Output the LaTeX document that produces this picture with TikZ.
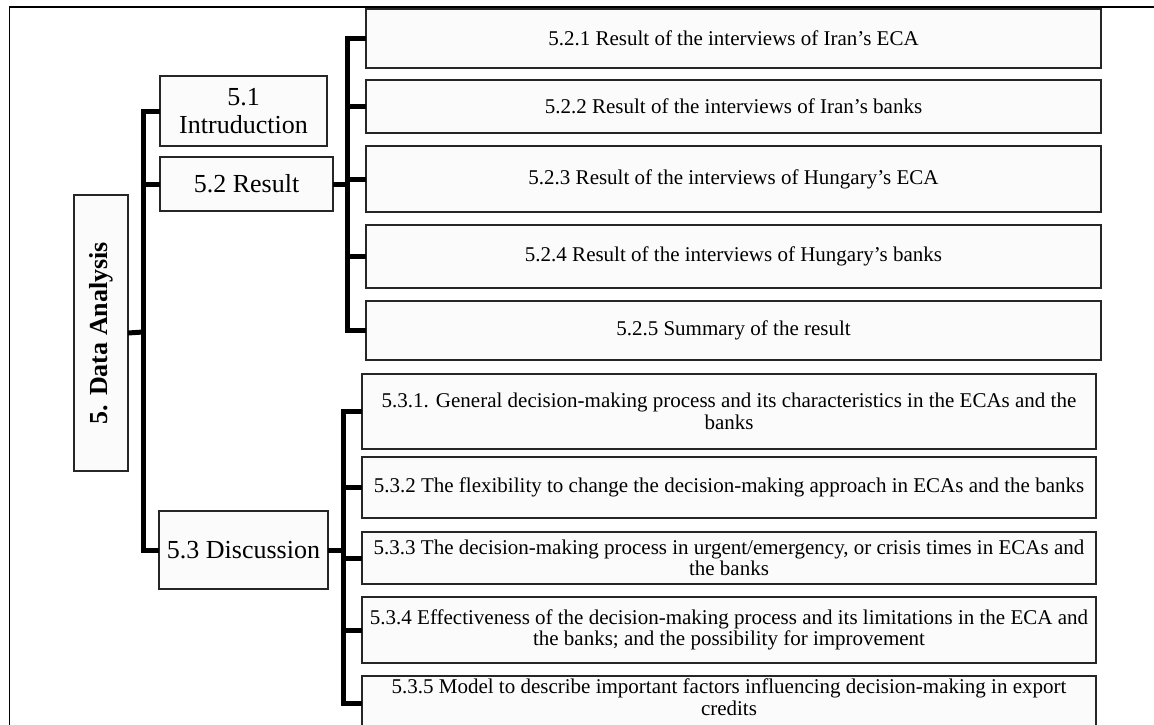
\documentclass[tikz,border=0pt]{standalone}
\usepackage{fontspec}
\setmainfont{Liberation Serif}
\newcommand{\bigline}[1]{\raisebox{-3pt}[\height][\depth]{\scalebox{1.238}{\fontsize{21}{22.6}\selectfont
  \begin{tabular}{@{}c@{}}#1\end{tabular}}}}
\begin{document}
\begin{tikzpicture}[x=1pt,y=-1pt,
  box/.style={draw=black!85, line width=2.2pt, fill=gray!3, inner sep=0pt,
    outer sep=0pt, align=center},
  smalltxt/.style={font=\fontsize{21}{21.5}\selectfont, align=center},
  conn/.style={line width=5pt, line join=miter, line cap=butt},
  frame/.style={line width=1.6pt}]
\useasboundingbox (0,0) rectangle (1154,724);

% outer frame (top and left edges)
\draw[frame] (9.5,740) -- (9.5,7) -- (1170,7);

% root
\node[box, minimum width=54, minimum height=276] (da) at (101,333)
  {\rotatebox{90}{\scalebox{1.238}{\fontsize{21}{22.6}\selectfont\bfseries 5. Data Analysis}}};

% level 1
\node[box, minimum width=167, minimum height=70] (i51) at (243.5,111)
  {\bigline{5.1\\Intruduction}};
\node[box, minimum width=173, minimum height=54] (i52) at (246.5,184)
  {\bigline{5.2 Result}};
\node[box, minimum width=169, minimum height=78] (i53) at (243.5,550)
  {\bigline{5.3 Discussion}};

% level 2 under 5.2
\node[box, smalltxt, minimum width=735, minimum height=59] (c521) at (733.5,38.5)
  {5.2.1 Result of the interviews of Iran’s ECA};
\node[box, smalltxt, minimum width=735, minimum height=53] (c522) at (733.5,106.5)
  {5.2.2 Result of the interviews of Iran’s banks};
\node[box, smalltxt, minimum width=735, minimum height=66] (c523) at (733.5,179)
  {5.2.3 Result of the interviews of Hungary’s ECA};
\node[box, smalltxt, minimum width=735, minimum height=63] (c524) at (733.5,256.5)
  {5.2.4 Result of the interviews of Hungary’s banks};
\node[box, smalltxt, minimum width=735, minimum height=59] (c525) at (733.5,330.5)
  {5.2.5 Summary of the result};

% level 2 under 5.3
\node[box, smalltxt, minimum width=734, minimum height=75] (c531) at (729,411.5)
  {5.3.1. General decision-making process and its characteristics in the ECAs and the\\banks};
\node[box, smalltxt, minimum width=734, minimum height=61] (c532) at (729,487.5)
  {5.3.2 The flexibility to change the decision-making approach in ECAs and the banks};
\node[box, smalltxt, minimum width=734, minimum height=52] (c533) at (729,558)
  {5.3.3 The decision-making process in urgent/emergency, or crisis times in ECAs and\\the banks};
\node[box, smalltxt, minimum width=734, minimum height=66] (c534) at (729,630)
  {5.3.4 Effectiveness of the decision-making process and its limitations in the ECA and\\the banks; and the possibility for improvement};
\node[box, minimum width=734, minimum height=54] (c535) at (729,703) {};
\node[smalltxt, inner sep=0pt] (t535) at (729,697)
  {5.3.5 Model to describe important factors influencing decision-making in export\\credits};

% connectors from the root
\coordinate (tr) at (143,332);
\draw[conn] (da.east) -- (tr);
\draw[conn] (i51.west) -| (tr) |- (i53.west);
\draw[conn] (tr |- i52.west) -- (i52.west);

% connectors under 5.2
\coordinate (s2) at (347,184);
\draw[conn] (i52.east) -- (s2);
\draw[conn] (c521.west) -| (s2) |- (c525.west);
\draw[conn] (s2 |- c522.west) -- (c522.west);
\draw[conn] (s2 |- c523.west) -- (c523.west);
\draw[conn] (s2 |- c524.west) -- (c524.west);

% connectors under 5.3
\coordinate (s3) at (343,550);
\draw[conn] (i53.east) -- (s3);
\draw[conn] (c531.west) -| (s3) |- (c535.west);
\draw[conn] (s3 |- c532.west) -- (c532.west);
\draw[conn] (s3 |- c533.west) -- (c533.west);
\draw[conn] (s3 |- c534.west) -- (c534.west);
\end{tikzpicture}
\end{document}
